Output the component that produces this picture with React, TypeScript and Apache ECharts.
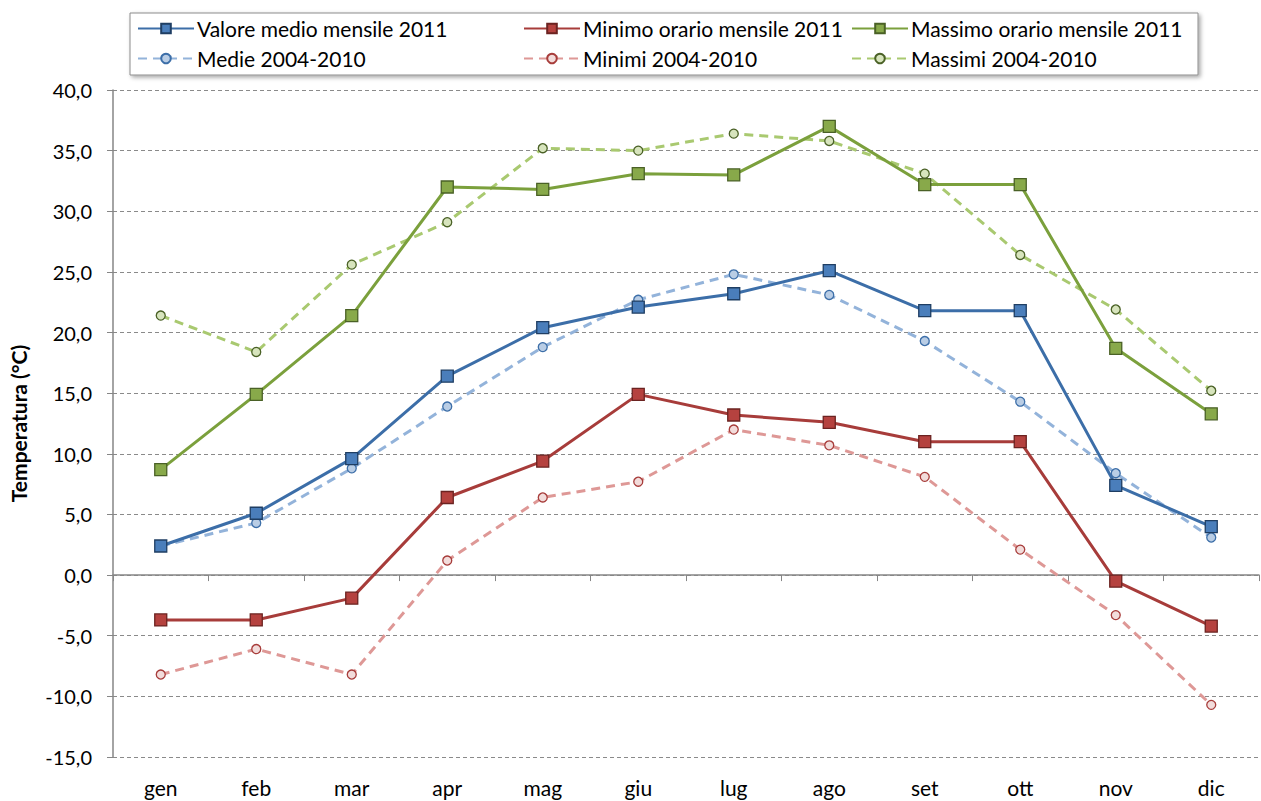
import React, { useEffect, useRef } from "react";
import * as echarts from "echarts";

const months = ["gen", "feb", "mar", "apr", "mag", "giu", "lug", "ago", "set", "ott", "nov", "dic"];
const medio2011 = [2.4, 5.1, 9.6, 16.4, 20.4, 22.1, 23.2, 25.1, 21.8, 21.8, 7.4, 4.0];
const minimo2011 = [-3.7, -3.7, -1.9, 6.4, 9.4, 14.9, 13.2, 12.6, 11.0, 11.0, -0.5, -4.2];
const massimo2011 = [8.7, 14.9, 21.4, 32.0, 31.8, 33.1, 33.0, 37.0, 32.2, 32.2, 18.7, 13.3];
const medie0410 = [2.4, 4.3, 8.8, 13.9, 18.8, 22.7, 24.8, 23.1, 19.3, 14.3, 8.4, 3.1];
const minimi0410 = [-8.2, -6.1, -8.2, 1.2, 6.4, 7.7, 12.0, 10.7, 8.1, 2.1, -3.3, -10.7];
const massimi0410 = [21.4, 18.4, 25.6, 29.1, 35.2, 35.0, 36.4, 35.8, 33.1, 26.4, 21.9, 15.2];

const yTicks = { min: -15, max: 40, interval: 5 };
const font = "Lato, 'Open Sans', sans-serif";

function solid(name: string, data: number[], line: string, fill: string, border: string) {
  return {
    name,
    type: "line",
    data,
    symbol: "rect",
    symbolSize: 12,
    lineStyle: { color: line, width: 3 },
    itemStyle: { color: fill, borderColor: border, borderWidth: 1.3 },
    z: 3,
  };
}
function dashed(name: string, data: number[], line: string, fill: string, border: string) {
  return {
    name,
    type: "line",
    data,
    symbol: "circle",
    symbolSize: 9,
    lineStyle: { color: line, width: 3, type: [9, 6] },
    itemStyle: { color: fill, borderColor: border, borderWidth: 1.3 },
    z: 2,
  };
}

export default function App() {
  const ref = useRef<HTMLDivElement>(null);
  useEffect(() => {
    const chart = echarts.init(ref.current!, null, { renderer: "svg" });
    const legendCommon = {
      orient: "vertical",
      top: 13,
      itemWidth: 56,
      itemHeight: 12,
      itemGap: 9,
      textStyle: { fontFamily: font, fontSize: 21, color: "#000", padding: [0, 0, 0, -2] },
    };
    chart.setOption({
      animation: false,
      backgroundColor: "#fff",
      graphic: [
        {
          type: "rect",
          shape: { x: 130, y: 13, width: 1068, height: 62 },
          style: { fill: "#fff", stroke: "#8c8c8c", lineWidth: 1, shadowBlur: 4, shadowOffsetX: 2, shadowOffsetY: 2, shadowColor: "rgba(0,0,0,0.35)" },
          z: 0,
        },
      ],
      legend: [
        { ...legendCommon, left: 132, data: ["Valore medio mensile 2011", "Medie 2004-2010"] },
        { ...legendCommon, left: 518, data: ["Minimo orario mensile 2011", "Minimi 2004-2010"] },
        { ...legendCommon, left: 846, data: ["Massimo orario mensile 2011", "Massimi 2004-2010"] },
      ],
      grid: { left: 109, right: 2, top: 90, bottom: 44, containLabel: false },
      xAxis: {
        type: "category",
        data: months,
        boundaryGap: true,
        axisLine: { lineStyle: { color: "#868686", width: 1.5 } },
        axisTick: { show: true, length: 6, lineStyle: { color: "#868686" } },
        axisLabel: { fontFamily: font, fontSize: 21, color: "#000", margin: 20 },
      },
      yAxis: {
        type: "value",
        min: yTicks.min,
        max: yTicks.max,
        interval: yTicks.interval,
        name: "Temperatura (°C)",
        nameLocation: "middle",
        nameGap: 84,
        nameTextStyle: { fontFamily: font, fontSize: 21, fontWeight: "bold", color: "#000" },
        axisLine: { show: true, lineStyle: { color: "#868686", width: 1.5 } },
        axisTick: { show: true, length: 6, lineStyle: { color: "#868686" } },
        axisLabel: {
          fontFamily: font,
          fontSize: 20,
          color: "#000",
          margin: 21,
          formatter: (v: number) => v.toFixed(1).replace(".", ","),
        },
        splitLine: { show: true, lineStyle: { color: "#8a8a8a", type: [4, 3], width: 1 } },
      },
      series: [
        solid("Valore medio mensile 2011", medio2011, "#3C6EA8", "#4A7EBB", "#1F3E63"),
        solid("Minimo orario mensile 2011", minimo2011, "#A73C3A", "#B5423F", "#6B2321"),
        solid("Massimo orario mensile 2011", massimo2011, "#7BA03C", "#88A94A", "#4A6126"),
        dashed("Medie 2004-2010", medie0410, "#93B3DA", "#B9CDE5", "#3C6EA8"),
        dashed("Minimi 2004-2010", minimi0410, "#DE9896", "#F2DCDB", "#A73C3A"),
        dashed("Massimi 2004-2010", massimi0410, "#A9C970", "#D7E4BD", "#4A6126"),
      ],
    });
    return () => chart.dispose();
  }, []);
  return <div ref={ref} style={{ width: 1261, height: 801, position: "absolute", left: 0, top: 0 }} />;
}
